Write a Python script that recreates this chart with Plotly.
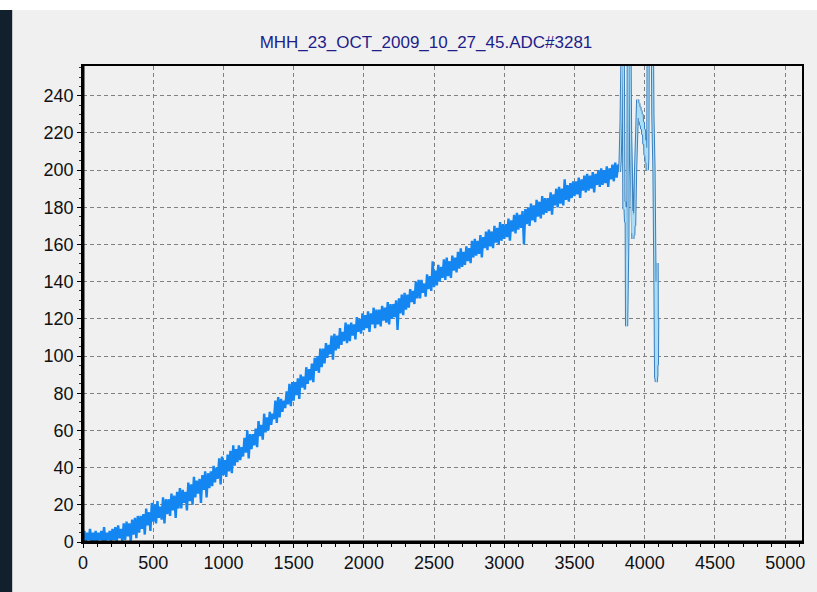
import plotly.graph_objects as go

TITLE = "MHH_23_OCT_2009_10_27_45.ADC#3281"

# Noisy ramp: one value every 10 samples (0 .. 3820),
# alternating between the lower and upper edge of the noise band.
band_step = 10
band_y = [
    0, 6, 0, 5, 1, 7, 0, 5, 0, 6,
    0, 5, 1, 6, 0, 8, 0, 5, 1, 6,
    0, 7, 1, 8, 0, 9, 2, 7, 0, 10,
    1, 11, 3, 10, 0, 12, 4, 13, 2, 14,
    5, 14, 7, 15, 4, 18, 9, 16, 6, 21,
    11, 20, 10, 22, 13, 19, 12, 24, 10, 23,
    15, 23, 14, 26, 17, 25, 13, 27, 18, 29,
    18, 28, 21, 27, 17, 32, 22, 31, 20, 35,
    24, 33, 26, 34, 21, 36, 28, 38, 24, 37,
    29, 38, 30, 41, 32, 40, 34, 45, 31, 46,
    36, 44, 35, 47, 38, 49, 37, 52, 41, 50,
    43, 52, 44, 51, 46, 56, 48, 60, 45, 58,
    50, 58, 52, 61, 51, 65, 57, 63, 55, 69,
    59, 67, 60, 70, 63, 69, 66, 76, 64, 78,
    67, 77, 70, 76, 72, 81, 74, 85, 73, 86,
    76, 86, 79, 88, 77, 90, 83, 89, 82, 94,
    85, 93, 87, 96, 86, 99, 92, 100, 91, 104,
    94, 104, 96, 107, 99, 106, 101, 111, 98, 112,
    103, 111, 104, 115, 106, 113, 108, 118, 107, 117,
    108, 118, 111, 117, 109, 121, 113, 120, 112, 123,
    114, 122, 115, 124, 113, 123, 117, 126, 115, 125,
    117, 125, 116, 127, 119, 126, 118, 129, 117, 128,
    120, 128, 121, 130, 114, 131, 123, 133, 122, 134,
    125, 133, 126, 136, 129, 135, 128, 140, 131, 141,
    131, 141, 134, 139, 132, 144, 136, 143, 135, 151,
    137, 146, 138, 149, 140, 148, 142, 152, 141, 153,
    143, 151, 142, 154, 146, 153, 145, 156, 147, 158,
    148, 156, 149, 159, 151, 158, 150, 162, 153, 163,
    154, 162, 155, 165, 153, 164, 158, 167, 157, 168,
    159, 167, 158, 170, 161, 169, 160, 172, 162, 171,
    163, 171, 164, 174, 162, 173, 167, 176, 166, 177,
    168, 176, 169, 178, 160, 179, 171, 180, 170, 182,
    173, 181, 172, 184, 175, 183, 174, 186, 176, 185,
    177, 185, 178, 188, 176, 187, 181, 190, 180, 191,
    182, 190, 181, 195, 184, 192, 183, 193, 185, 194,
    186, 194, 187, 196, 185, 195, 189, 197, 188, 198,
    189, 197, 190, 199, 188, 198, 192, 200, 191, 201,
    192, 200, 193, 202, 191, 201, 195, 203, 194, 204,
    196, 203, 199,
]
band_x = [i * band_step for i in range(len(band_y))]

# Saturated / oscillating tail of the trace (values above 256 are clipped by the axis)
tail_x = [3820, 3825, 3832, 3838, 3845, 3852, 3858, 3864, 3868, 3871, 3876, 3880, 3884, 3892,
          3899, 3905, 3910, 3913, 3916, 3919, 3922, 3925, 3928, 3935,
          3945, 3950, 3954, 3958, 3962, 3966, 3970, 3974, 3978, 3982, 3986, 3990, 3994,
          3998, 4002, 4006, 4010, 4014, 4018, 4022, 4026, 4040, 4052, 4058,
          4066, 4072, 4074, 4076, 4078, 4080, 4082, 4084, 4086, 4088, 4090, 4092]
tail_y = [199, 205, 226, 300, 300, 179, 183, 172, 180, 116, 160, 165, 300, 300,
          220, 190, 166, 178, 163, 176, 165, 177, 170, 200,
          225, 238, 228, 236, 226, 234, 224, 232, 222, 230, 219, 226, 214,
          222, 208, 216, 204, 212, 200, 206, 300, 300, 300, 230,
          200, 149, 92, 145, 88, 140, 86, 135, 90, 150, 95, 120]

x_ticks = [0, 500, 1000, 1500, 2000, 2500, 3000, 3500, 4000, 4500, 5000]
y_ticks = [0, 20, 40, 60, 80, 100, 120, 140, 160, 180, 200, 220, 240]
x_range = [0, 5120]
y_range = [0, 256]

fig = go.Figure()
fig.add_trace(go.Scatter(x=band_x, y=band_y, mode="lines",
                         line=dict(color="#1486f2", width=2.4), hoverinfo="skip"))
fig.add_trace(go.Scatter(x=tail_x, y=tail_y, mode="lines",
                         line=dict(color="#3a7fbe", width=3.2), hoverinfo="skip"))
fig.add_trace(go.Scatter(x=tail_x, y=tail_y, mode="lines",
                         line=dict(color="#a9def6", width=1.2), hoverinfo="skip"))

L, R, T, B = 83, 13, 66, 50
W, H = 817, 592
pw, ph = W - L - R, H - T - B

def px(xp):
    return (xp - L) / pw

def py(yp):
    return (H - B - yp) / ph

shapes = [
    dict(type="rect", xref="paper", yref="paper", x0=px(-2), x1=px(W + 2), y0=py(10), y1=py(-2),
         fillcolor="#ffffff", line=dict(width=0), layer="below"),
    dict(type="rect", xref="paper", yref="paper", x0=px(-2), x1=px(12), y0=py(H + 2), y1=py(10),
         fillcolor="#12202d", line=dict(width=0), layer="below"),
    dict(type="line", xref="paper", yref="paper", x0=0, x1=0, y0=0, y1=1,
         line=dict(color="black", width=3)),
    dict(type="line", xref="paper", yref="paper", x0=0, x1=1, y0=0, y1=0,
         line=dict(color="black", width=3)),
]

axis_font = dict(family="Liberation Sans, Arial, sans-serif", size=18, color="#111111")

fig.update_layout(
    width=W, height=H,
    margin=dict(l=L, r=R, t=T, b=B),
    paper_bgcolor="#f0f0f0",
    plot_bgcolor="#f0f0f0",
    showlegend=False,
    shapes=shapes,
    title=dict(text=TITLE, x=426 / W, xanchor="center", y=1 - 42 / H, yanchor="middle",
               xref="container", yref="container",
               font=dict(family="Liberation Sans, Arial, sans-serif", size=17, color="#1e1e8a")),
    xaxis=dict(range=x_range, tickvals=x_ticks, ticktext=[str(v) for v in x_ticks],
               showgrid=True, gridcolor="#808080", gridwidth=1, griddash="4px,3px",
               showline=True, mirror=True, linecolor="black", linewidth=1.5,
               ticks="outside", ticklen=4, tickcolor="black", tickfont=axis_font,
               minor=dict(dtick=100, tick0=0, ticks="outside", ticklen=3, tickcolor="black", showgrid=False),
               zeroline=False, fixedrange=True),
    yaxis=dict(range=y_range, tickvals=y_ticks, ticktext=[str(v) for v in y_ticks],
               showgrid=True, gridcolor="#808080", gridwidth=1, griddash="4px,3px",
               showline=True, mirror=True, linecolor="black", linewidth=1.5,
               ticks="outside", ticklen=4, tickcolor="black", tickfont=axis_font,
               minor=dict(dtick=5, tick0=0, ticks="outside", ticklen=2, tickcolor="#333333", showgrid=False),
               zeroline=False, fixedrange=True),
)

fig.write_html("out.html")
